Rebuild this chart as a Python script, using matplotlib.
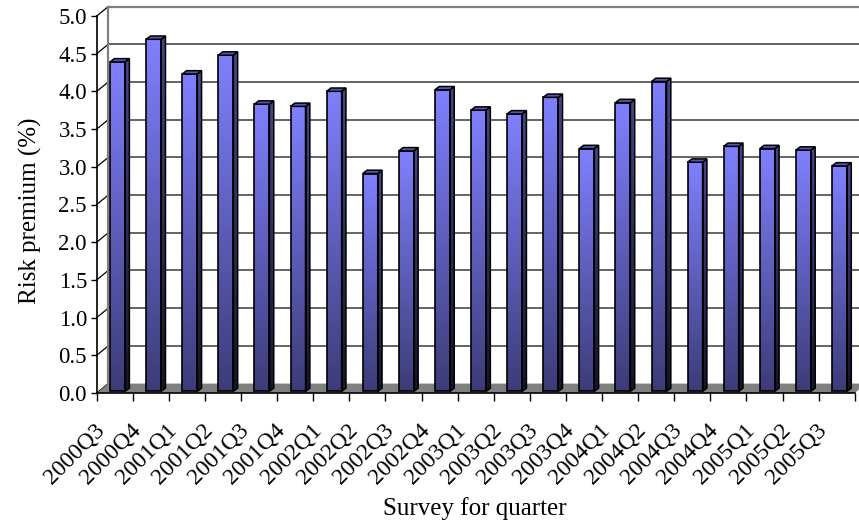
import numpy as np
import matplotlib.pyplot as plt
from matplotlib.patches import Polygon, Rectangle
from matplotlib.colors import LinearSegmentedColormap
from matplotlib.transforms import ScaledTranslation

quarters = ['2000Q3', '2000Q4', '2001Q1', '2001Q2', '2001Q3', '2001Q4', '2002Q1',
            '2002Q2', '2002Q3', '2002Q4', '2003Q1', '2003Q2', '2003Q3', '2003Q4',
            '2004Q1', '2004Q2', '2004Q3', '2004Q4', '2005Q1', '2005Q2', '2005Q3']
premium = [4.37, 4.67, 4.21, 4.46, 3.81, 3.78, 3.98,
           2.89, 3.19, 4.00, 3.73, 3.68, 3.90, 3.22,
           3.83, 4.11, 3.04, 3.25, 3.22, 3.20, 2.99]
yticks = np.arange(0, 5.01, 0.5)

plt.rcParams['font.family'] = ['Liberation Serif', 'DejaVu Serif']

fig = plt.figure(figsize=(8.59, 5.27), dpi=100)
ax = fig.add_axes([96.7 / 859, (527 - 393) / 527, 758 / 859, 377 / 527])
n = len(quarters)
x0, x1 = -0.5, n - 0.5

# fake 3-d offsets, in data units
wall_dx, wall_dy = 0.32, 0.125
bar_dx, bar_dy = 0.078, 0.021
depth_dx, depth_dy = 0.12, 0.044
bar_w = 0.415

# back wall gridlines + side wall diagonals
for v in yticks:
    if v > 0:
        col = '#808080' if v == yticks[-1] else '#3a3a3a'
        lw = 1.6 if v == yticks[-1] else 1.1
        ax.plot([x0 + wall_dx, x1 + wall_dx], [v + wall_dy] * 2, color=col,
                lw=lw, clip_on=False, zorder=0.5)
    ax.plot([x0, x0 + wall_dx], [v, v + wall_dy], color='black', lw=0.9,
            clip_on=False, zorder=0.6)
ax.plot([x0 + wall_dx] * 2, [wall_dy, yticks[-1] + wall_dy], color='#808080',
        lw=1.6, clip_on=False, zorder=0.6)

# floor
ax.add_patch(Polygon([(x0, 0), (x1, 0), (x1 + wall_dx, wall_dy), (x0 + wall_dx, wall_dy)],
                     closed=True, fc='#808080', ec='none', zorder=1, clip_on=False))

front_cm = LinearSegmentedColormap.from_list('front', ['#3c3c78', '#8080ff'])
side_cm = LinearSegmentedColormap.from_list('side', ['#15152c', '#45458a'])
grad = np.linspace(0, 1, 256).reshape(-1, 1)

for i, v in enumerate(premium):
    xl = i - bar_w / 2 + bar_dx
    xr = i + bar_w / 2 + bar_dx
    yb, yt = bar_dy, v + bar_dy
    # front face
    ax.imshow(grad, cmap=front_cm, origin='lower', aspect='auto',
              extent=[xl, xr, yb, yt], zorder=2, interpolation='bilinear')
    ax.add_patch(Rectangle((xl, yb), xr - xl, yt - yb, fc='none', ec='black',
                           lw=1.2, zorder=3))
    # side face
    side = Polygon([(xr, yb), (xr + depth_dx, yb + depth_dy),
                    (xr + depth_dx, yt + depth_dy), (xr, yt)],
                   closed=True, fc='none', ec='black', lw=1.1, zorder=3)
    im = ax.imshow(grad, cmap=side_cm, origin='lower', aspect='auto',
                   extent=[xr, xr + depth_dx, yb, yt + depth_dy], zorder=2,
                   interpolation='bilinear')
    ax.add_patch(side)
    im.set_clip_path(side)
    # top face
    ax.add_patch(Polygon([(xl, yt), (xl + depth_dx, yt + depth_dy),
                          (xr + depth_dx, yt + depth_dy), (xr, yt)],
                         closed=True, fc='#5656ae', ec='black', lw=1.1, zorder=3))

ax.set_xlim(x0, x1)
ax.set_ylim(0, 5)

ax.set_yticks(yticks)
ax.set_yticklabels([f'{v:.1f}' for v in yticks])
ax.tick_params(axis='y', length=4, width=1, pad=3, labelsize=16.5, colors='black')

ax.set_xticks(np.arange(n))
ax.set_xticklabels(quarters, rotation=45, ha='right', va='top', fontsize=17)
ax.tick_params(axis='x', which='major', length=0, pad=19)
ax.set_xticks(np.arange(n + 1) - 0.5, minor=True)
ax.tick_params(axis='x', which='minor', length=6, width=1)
shift = ScaledTranslation(-6 / 100, 0, fig.dpi_scale_trans)
for lab in ax.get_xticklabels():
    lab.set_transform(lab.get_transform() + shift)

for s in ['top', 'right']:
    ax.spines[s].set_visible(False)
for s in ['left', 'bottom']:
    ax.spines[s].set_linewidth(1.2)
    ax.spines[s].set_zorder(4)
ax.patch.set_alpha(0)

fig.text(30 / 859, 1 - 211 / 527, 'Risk premium (%)', rotation=90,
         ha='center', va='center', fontsize=18)
fig.text(475 / 859, 1 - 509 / 527, 'Survey for quarter', ha='center',
         va='center', fontsize=18)

fig.savefig('out.png', dpi=100)
